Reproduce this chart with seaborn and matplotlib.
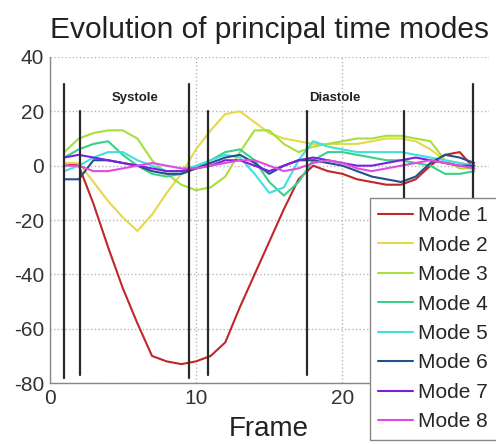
import numpy as np
import pandas as pd
import matplotlib
matplotlib.use("Agg")
import matplotlib.pyplot as plt
import seaborn as sns

frames = list(range(1, 30))
mode1 = [1, 0, -14, -30, -45, -58, -70, -72, -73, -72, -70, -65, -52, -40, -28, -16, -5, 0, -2, -3, -5, -6, -7, -7, -5, 0, 4, 5, -1]
mode2 = [1, 1, -6, -13, -19, -24, -18, -10, -3, 6, 13, 19, 20, 16, 12, 10, 9, 8, 8, 8, 8, 9, 10, 10, 9, 6, 2, 1, 0]
mode3 = [5, 10, 12, 13, 13, 10, 2, -3, -7, -9, -8, -4, 5, 13, 13, 8, 5, 7, 8, 9, 10, 10, 11, 11, 10, 9, 2, -1, -1]
mode4 = [3, 6, 8, 9, 4, 0, -3, -4, -3, -1, 2, 5, 6, 2, -6, -11, -6, 2, 5, 5, 4, 3, 2, 2, 1, 0, -3, -3, -2]
mode5 = [-2, 0, 3, 5, 5, 2, 0, -2, -2, 0, 2, 4, 3, -3, -10, -8, 2, 9, 7, 6, 5, 5, 5, 5, 4, 3, 2, 1, 0]
mode6 = [-5, -5, 2, 2, 1, 0, -2, -3, -3, -1, 1, 3, 4, 1, -3, 0, 2, 2, 1, 0, -2, -4, -5, -6, -4, 1, 4, 3, 1]
mode7 = [3, 4, 3, 2, 1, 0, -1, -2, -2, -1, 0, 2, 2, 0, -2, 0, 2, 3, 2, 1, 0, 0, 1, 2, 3, 2, 1, 0, 0]
mode8 = [0, 0, -2, -2, -1, 0, 1, 0, -1, -1, 0, 1, 2, 2, 0, -2, -1, 1, 2, 1, -1, -2, -1, 0, 1, 2, 1, 0, -1]
mode_names = ["Mode 1", "Mode 2", "Mode 3", "Mode 4", "Mode 5", "Mode 6", "Mode 7", "Mode 8"]
mode_colors = ["#c0262a", "#e6d84a", "#a6e03a", "#3ccf8a", "#40e0e0", "#24508a", "#7a1fe0", "#e04ce0"]

# phase marker lines: x position, top, bottom
marker_x = [1.0, 2.1, 9.5, 10.8, 17.6, 24.2, 28.9]
marker_top = [30, 20, 30, 20, 20, 20, 30]
marker_bottom = [-78, -77, -78, -77, -77, -77, -77]
phase_labels = ["Systole", "Diastole"]
phase_x = [5.85, 19.5]
phase_y = [25, 25]

sns.set_style("white")
plt.rcParams["font.family"] = ["Liberation Sans", "DejaVu Sans"]
plt.rcParams["axes.unicode_minus"] = False

all_modes = [mode1, mode2, mode3, mode4, mode5, mode6, mode7, mode8]
df = pd.DataFrame({
    "Frame": np.tile(frames, len(all_modes)),
    "Value": np.concatenate(all_modes),
    "Mode": np.repeat(mode_names, len(frames)),
})

fig = plt.figure(figsize=(4.96, 4.45), dpi=100)
ax = fig.add_axes([0.0998, 0.139, 0.886, 0.733])

for xv, t, b in zip(marker_x, marker_top, marker_bottom):
    ax.plot([xv, xv], [b, t], color="#2a2a2a", lw=1.6, zorder=3)

sns.lineplot(data=df, x="Frame", y="Value", hue="Mode", palette=mode_colors,
             hue_order=mode_names, lw=1.5, ax=ax, legend=True, zorder=2)

for lab, xv, yv in zip(phase_labels, phase_x, phase_y):
    ax.text(xv, yv, lab, ha="center", va="center", fontsize=9.5, fontweight="bold", color="#222222")

ax.set_xlim(0, 30)
ax.set_ylim(-80, 40)
ax.set_xticks([0, 10, 20])
ax.set_yticks([-80, -60, -40, -20, 0, 20, 40])
ax.grid(True, linestyle=":", color="#b8b8b8", lw=1.0)
for s in ["top", "right"]:
    ax.spines[s].set_visible(False)
for s in ["left", "bottom"]:
    ax.spines[s].set_color("#888888")
    ax.spines[s].set_linewidth(1.0)
ax.tick_params(axis="both", labelsize=15, colors="#333333", length=0, pad=4)
ax.set_xlabel("Frame", fontsize=20, color="#222222", labelpad=6)
ax.set_ylabel("")
ax.set_title("Evolution of principal time modes", fontsize=21.5, color="#222222", pad=14)

leg = ax.legend(loc="upper left", bbox_to_anchor=(0.745, 0.555), bbox_transform=fig.transFigure,
                fontsize=15, frameon=True, fancybox=False, framealpha=1, edgecolor="#888888",
                handlelength=1.7, handletextpad=0.25, labelspacing=0.5, borderpad=0.4,
                borderaxespad=0)
leg.get_frame().set_linewidth(1.0)

fig.savefig("out.png", dpi=100)
